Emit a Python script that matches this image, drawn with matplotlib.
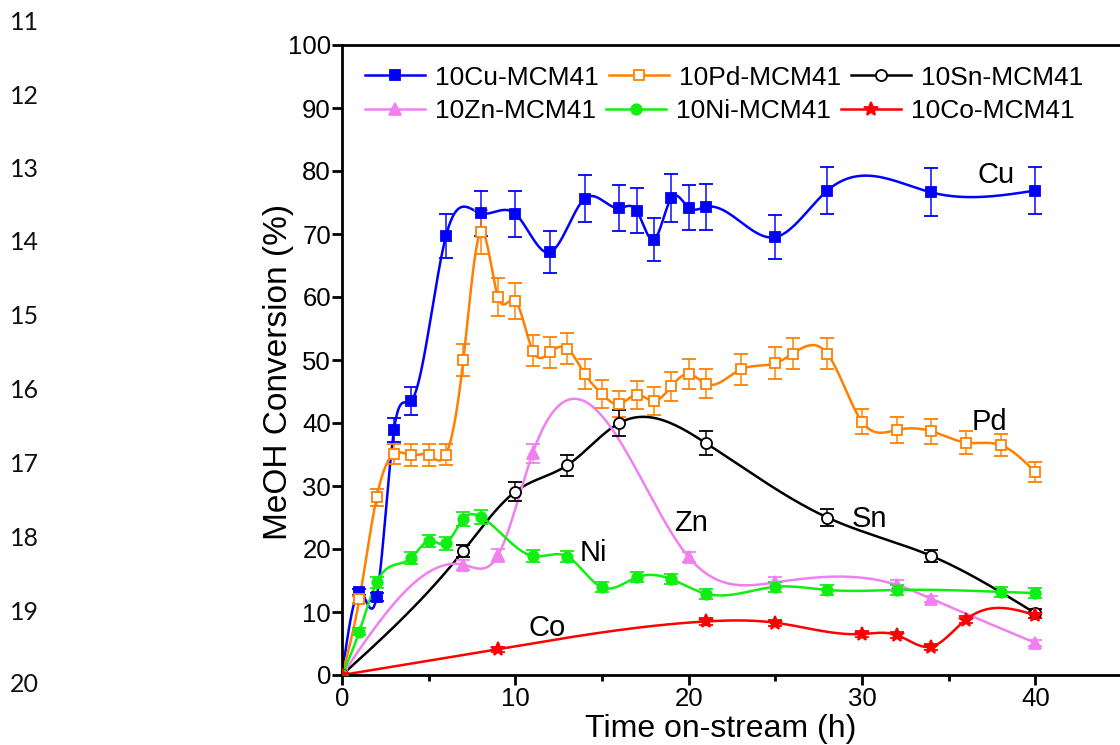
import numpy as np
import matplotlib
matplotlib.use("Agg")
import matplotlib.pyplot as plt
from matplotlib.lines import Line2D

plt.rcParams['font.family'] = ['Liberation Sans', 'DejaVu Sans']

# ---- measured conversions (%) and error bars vs time on stream (h) ----
time_cu = [0, 1, 2, 3, 4, 6, 8, 10, 12, 14, 16, 17, 18, 19, 20, 21, 25, 28, 34, 40]
conv_cu = [0, 13.2, 12.4, 38.9, 43.5, 69.7, 73.3, 73.2, 67.1, 75.6, 74.1, 73.7,
           69.1, 75.7, 74.2, 74.3, 69.5, 76.9, 76.6, 76.9]
err_cu = [0, 0.5, 0.6, 1.9, 2.2, 3.5, 3.6, 3.6, 3.3, 3.7, 3.6, 3.6, 3.4, 3.8,
          3.5, 3.6, 3.5, 3.8, 3.8, 3.8]

time_pd = [0, 1, 2, 3, 4, 5, 6, 7, 8, 9, 10, 11, 12, 13, 14, 15, 16, 17, 18, 19,
           20, 21, 23, 25, 26, 28, 30, 32, 34, 36, 38, 40]
conv_pd = [0, 12.0, 28.2, 35.1, 34.9, 34.9, 35.0, 50.0, 70.3, 60.0, 59.4, 51.5,
           51.2, 51.8, 47.8, 44.6, 43.0, 44.5, 43.5, 45.8, 47.8, 46.2, 48.5, 49.5,
           51.0, 51.0, 40.2, 38.9, 38.7, 36.9, 36.5, 32.2]
err_pd = [0, 0.6, 1.3, 1.6, 1.7, 1.7, 1.7, 2.5, 3.5, 3.0, 2.9, 2.5, 2.5, 2.5,
          2.4, 2.2, 2.1, 2.2, 2.2, 2.3, 2.4, 2.3, 2.4, 2.5, 2.5, 2.5, 2.0, 2.0,
          2.0, 1.8, 1.7, 1.6]

time_sn = [0, 7, 10, 13, 16, 21, 28, 34, 40]
conv_sn = [0, 19.7, 29.1, 33.3, 40.0, 36.8, 25.0, 18.9, 9.8]
err_sn = [0, 0.9, 1.5, 1.7, 2.1, 1.9, 1.3, 1.0, 0.7]

time_zn = [0, 7, 9, 11, 20, 25, 32, 34, 40]
conv_zn = [0, 17.5, 19.0, 35.2, 18.7, 14.7, 14.3, 12.1, 5.1]
err_zn = [0, 0.8, 1.0, 1.5, 0.8, 0.8, 0.8, 0.5, 0.5]

time_ni = [0, 1, 2, 4, 5, 6, 7, 8, 11, 13, 15, 17, 19, 21, 25, 28, 32, 38, 40]
conv_ni = [0, 6.9, 14.7, 18.6, 21.3, 20.9, 24.8, 25.1, 18.9, 18.8, 13.9, 15.5,
           15.2, 12.9, 14.0, 13.5, 13.5, 13.2, 13.0]
err_ni = [0, 0.6, 0.9, 1.0, 1.0, 1.0, 1.1, 1.1, 0.9, 0.9, 0.8, 0.8, 0.8, 0.8,
          0.8, 0.8, 0.8, 0.8, 0.8]

time_co = [0, 9, 21, 25, 30, 32, 34, 36, 40]
conv_co = [0, 4.1, 8.5, 8.3, 6.5, 6.35, 4.5, 8.8, 9.5]
err_co = [0, 0.4, 0.5, 0.5, 0.5, 0.5, 0.5, 0.5, 0.5]

catalysts = ["10Cu-MCM41", "10Pd-MCM41", "10Sn-MCM41",
             "10Zn-MCM41", "10Ni-MCM41", "10Co-MCM41"]
short_names = ["Cu", "Pd", "Sn", "Zn", "Ni", "Co"]
line_numbers = ["11", "12", "13", "14", "15", "16", "17", "18", "19", "20"]


def natural_cubic(x, y, num=800):
    """Natural cubic spline through (x, y), sampled on a fine grid."""
    x = np.asarray(x, float)
    y = np.asarray(y, float)
    n = len(x)
    h = np.diff(x)
    A = np.zeros((n, n))
    r = np.zeros(n)
    A[0, 0] = A[-1, -1] = 1.0
    for i in range(1, n - 1):
        A[i, i - 1] = h[i - 1]
        A[i, i] = 2 * (h[i - 1] + h[i])
        A[i, i + 1] = h[i]
        r[i] = 6 * ((y[i + 1] - y[i]) / h[i] - (y[i] - y[i - 1]) / h[i - 1])
    M = np.linalg.solve(A, r)
    xs = np.linspace(x[0], x[-1], num)
    idx = np.clip(np.searchsorted(x, xs, side='right') - 1, 0, n - 2)
    x0, x1 = x[idx], x[idx + 1]
    hh = x1 - x0
    t0, t1 = x1 - xs, xs - x0
    ys = (M[idx] * t0 ** 3 / (6 * hh) + M[idx + 1] * t1 ** 3 / (6 * hh)
          + (y[idx] / hh - M[idx] * hh / 6) * t0
          + (y[idx + 1] / hh - M[idx + 1] * hh / 6) * t1)
    return xs, ys


W, H = 1120, 745
fig = plt.figure(figsize=(W / 100, H / 100), dpi=100)
ax = fig.add_axes([342 / W, 70 / H, 780 / W, 630 / H])

styles = [
    dict(color="#0000FF", marker="s", mfc="#0000FF", ms=7),
    dict(color="#FF8000", marker="s", mfc="white", ms=7),
    dict(color="#000000", marker="o", mfc="white", ms=8),
    dict(color="#F080F0", marker="^", mfc="#F080F0", ms=8),
    dict(color="#11EE11", marker="o", mfc="#11EE11", ms=7.5),
    dict(color="#FF0000", marker="*", mfc="#FF0000", ms=10),
]
series = [(time_cu, conv_cu, err_cu), (time_pd, conv_pd, err_pd),
          (time_sn, conv_sn, err_sn), (time_zn, conv_zn, err_zn),
          (time_ni, conv_ni, err_ni), (time_co, conv_co, err_co)]

handles = []
for (t, c, e), st, lab in zip(series, styles, catalysts):
    xs, ys = natural_cubic(t, c)
    ax.plot(xs, ys, color=st["color"], lw=1.8, zorder=2)
    ax.errorbar(t, c, yerr=e, fmt=st["marker"], ms=st["ms"],
                mfc=st["mfc"], mec=st["color"], mew=1.3,
                ecolor=st["color"], elinewidth=1.4, capsize=5, capthick=1.4,
                zorder=3, alpha=1.0)
    handles.append(Line2D([], [], color=st["color"], lw=1.8, marker=st["marker"],
                          ms=st["ms"], mfc=st["mfc"], mec=st["color"], mew=1.3,
                          label=lab))

# make the error bar segments slightly translucent
for coll in ax.collections:
    coll.set_alpha(0.75)

ax.set_xlim(0, 45)
ax.set_ylim(0, 100)
ax.set_xticks([0, 10, 20, 30, 40])
ax.set_xticks([5, 15, 25, 35], minor=True)
ax.set_yticks(np.arange(0, 101, 10))
ax.tick_params(axis='both', which='major', direction='out', length=7, width=2,
               labelsize=18.5, pad=2)
ax.tick_params(axis='x', which='minor', direction='out', length=4, width=2)
ax.tick_params(axis='y', which='major', pad=1)
for side in ["left", "bottom", "top"]:
    ax.spines[side].set_linewidth(2)
ax.spines["right"].set_visible(False)

fig.text(278 / W, 1 - 372 / H, "MeOH Conversion (%)", rotation=90,
         ha='center', va='center', fontsize=24)
fig.text(721 / W, 7.7 / H, "Time on-stream (h)", ha='center', va='baseline',
         fontsize=23)

# curve labels
label_pos = [(36.66, 78.05), (36.35, 38.9), (29.43, 23.54),
             (19.15, 22.86), (13.72, 18.14), (10.78, 6.19)]
for name, (lx, ly) in zip(short_names, label_pos):
    ax.text(lx, ly, name, fontsize=21, ha='left', va='baseline')

# two-row legend, each row laid out on its own
leg_kw = dict(frameon=False, fontsize=19, handlelength=2.27, handletextpad=0.38,
              columnspacing=0.38, borderpad=0, borderaxespad=0, ncol=3,
              numpoints=1, loc='center left')
fig.legend(handles=handles[:3], bbox_to_anchor=(365 / W, 1 - 77.7 / H), **leg_kw)
fig.legend(handles=handles[3:], bbox_to_anchor=(365 / W, 1 - 111 / H), **leg_kw)

# manuscript line numbers down the left margin
ln_y = [22, 96, 169.5, 243, 317, 391, 464.5, 538, 612, 684.5]
for s, yy in zip(line_numbers, ln_y):
    fig.text(10 / W, 1 - yy / H, s, fontsize=18, family=['Lato', 'DejaVu Sans'],
             ha='left', va='center', color='#111111')

fig.savefig("out.png", dpi=100)
